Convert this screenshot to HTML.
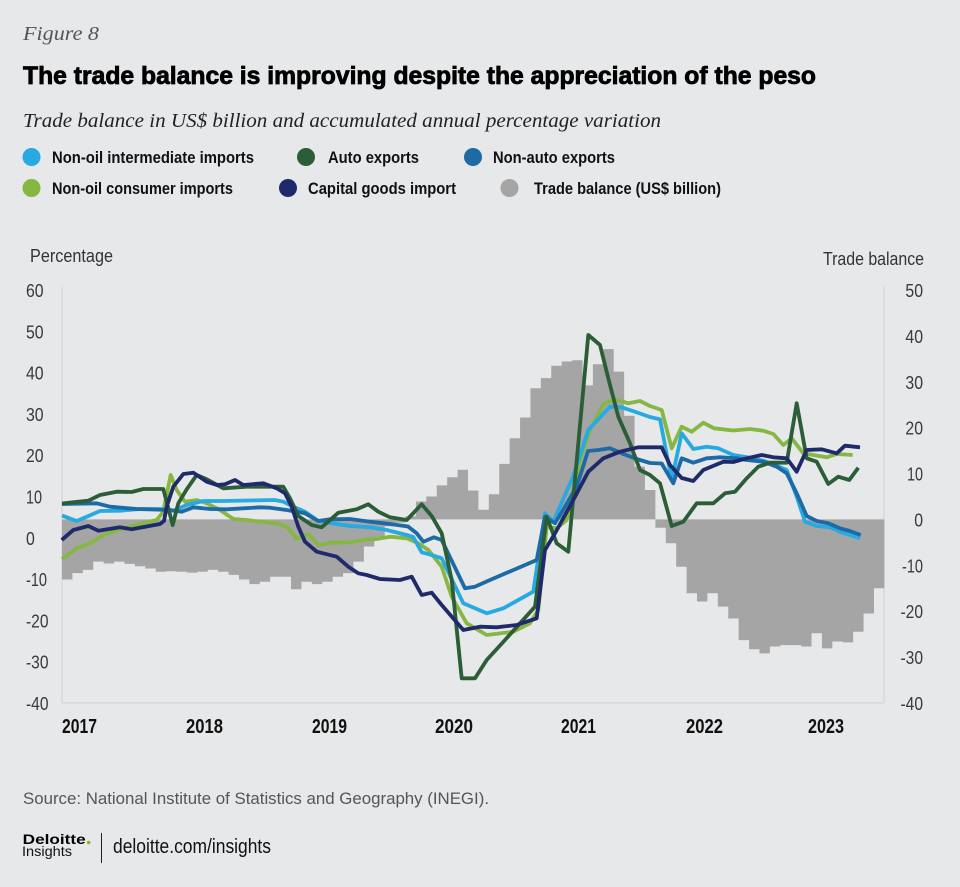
<!DOCTYPE html>
<html>
<head>
<meta charset="utf-8">
<style>
html,body{margin:0;padding:0;background:#e7e8ea;}
svg{display:block;}
</style>
</head>
<body>
<svg width="960" height="887" viewBox="0 0 960 887" xmlns="http://www.w3.org/2000/svg">
<rect x="0" y="0" width="960" height="887" fill="#e7e8ea"/>

<!-- Header -->
<text x="23" y="40" font-family="Liberation Serif, serif" font-style="italic" font-size="20" fill="#555" textLength="76" lengthAdjust="spacingAndGlyphs">Figure 8</text>
<text x="23" y="84" font-family="Liberation Sans, sans-serif" font-weight="bold" font-size="25" fill="#000" stroke="#000" stroke-width="0.8" textLength="793" lengthAdjust="spacingAndGlyphs">The trade balance is improving despite the appreciation of the peso</text>
<text x="23" y="127" font-family="Liberation Serif, serif" font-style="italic" font-size="20.5" fill="#222" textLength="638" lengthAdjust="spacingAndGlyphs">Trade balance in US$ billion and accumulated annual percentage variation</text>

<!-- Legend -->
<g font-family="Liberation Sans, sans-serif" font-weight="bold" font-size="16.5" fill="#111">
<circle cx="31.5" cy="157" r="9" fill="#27a9e1"/>
<text x="52" y="163" textLength="202" lengthAdjust="spacingAndGlyphs">Non-oil intermediate imports</text>
<circle cx="306" cy="157" r="9" fill="#2b5d36"/>
<text x="328" y="163" textLength="91" lengthAdjust="spacingAndGlyphs">Auto exports</text>
<circle cx="473" cy="157" r="9" fill="#1d6aa5"/>
<text x="493" y="163" textLength="122" lengthAdjust="spacingAndGlyphs">Non-auto exports</text>
<circle cx="31.5" cy="188" r="9" fill="#86b742"/>
<text x="52" y="194" textLength="181" lengthAdjust="spacingAndGlyphs">Non-oil consumer imports</text>
<circle cx="288" cy="188" r="9" fill="#1f2a6b"/>
<text x="308" y="194" textLength="148" lengthAdjust="spacingAndGlyphs">Capital goods import</text>
<circle cx="509.5" cy="188" r="9" fill="#a5a5a5"/>
<text x="534" y="194" textLength="187" lengthAdjust="spacingAndGlyphs">Trade balance (US$ billion)</text>
</g>

<!-- Axis titles -->
<text x="30" y="262" font-family="Liberation Sans, sans-serif" font-size="18" fill="#333" textLength="83" lengthAdjust="spacingAndGlyphs">Percentage</text>
<text x="924" y="265" text-anchor="end" font-family="Liberation Sans, sans-serif" font-size="18" fill="#333" textLength="101" lengthAdjust="spacingAndGlyphs">Trade balance</text>

<!-- Axes lines -->
<g stroke="#cfd1d4" stroke-width="1" fill="none">
<line x1="62" y1="287" x2="62" y2="703"/>
<line x1="884" y1="287" x2="884" y2="703"/>
<line x1="62" y1="703" x2="884" y2="703"/>
</g>

<!-- Left ticks -->
<g font-family="Liberation Sans, sans-serif" font-size="18.5" fill="#3a3a3a">
<text x="26" y="297" textLength="17.6" lengthAdjust="spacingAndGlyphs">60</text>
<text x="26" y="338.3" textLength="17.6" lengthAdjust="spacingAndGlyphs">50</text>
<text x="26" y="379.6" textLength="17.6" lengthAdjust="spacingAndGlyphs">40</text>
<text x="26" y="420.9" textLength="17.6" lengthAdjust="spacingAndGlyphs">30</text>
<text x="26" y="462.2" textLength="17.6" lengthAdjust="spacingAndGlyphs">20</text>
<text x="26" y="503.5" textLength="16" lengthAdjust="spacingAndGlyphs">10</text>
<text x="26" y="544.8" textLength="8.8" lengthAdjust="spacingAndGlyphs">0</text>
<text x="26" y="586.1" textLength="21" lengthAdjust="spacingAndGlyphs">-10</text>
<text x="26" y="627.4" textLength="22.5" lengthAdjust="spacingAndGlyphs">-20</text>
<text x="26" y="668.7" textLength="22.5" lengthAdjust="spacingAndGlyphs">-30</text>
<text x="26" y="710" textLength="22.5" lengthAdjust="spacingAndGlyphs">-40</text>
</g>

<!-- Right ticks -->
<g font-family="Liberation Sans, sans-serif" font-size="18.5" fill="#3a3a3a" text-anchor="end">
<text x="923" y="297" textLength="17.6" lengthAdjust="spacingAndGlyphs">50</text>
<text x="923" y="342.9" textLength="17.6" lengthAdjust="spacingAndGlyphs">40</text>
<text x="923" y="388.8" textLength="17.6" lengthAdjust="spacingAndGlyphs">30</text>
<text x="923" y="434.7" textLength="17.6" lengthAdjust="spacingAndGlyphs">20</text>
<text x="923" y="480.5" textLength="16" lengthAdjust="spacingAndGlyphs">10</text>
<text x="923" y="526.4" textLength="8.8" lengthAdjust="spacingAndGlyphs">0</text>
<text x="923" y="572.3" textLength="21" lengthAdjust="spacingAndGlyphs">-10</text>
<text x="923" y="618.2" textLength="22.5" lengthAdjust="spacingAndGlyphs">-20</text>
<text x="923" y="664.1" textLength="22.5" lengthAdjust="spacingAndGlyphs">-30</text>
<text x="923" y="710" textLength="22.5" lengthAdjust="spacingAndGlyphs">-40</text>
</g>

<!-- Year labels -->
<g font-family="Liberation Sans, sans-serif" font-weight="bold" font-size="20" fill="#111">
<text x="62" y="733" textLength="35" lengthAdjust="spacingAndGlyphs">2017</text>
<text x="186" y="733" textLength="37" lengthAdjust="spacingAndGlyphs">2018</text>
<text x="312" y="733" textLength="35" lengthAdjust="spacingAndGlyphs">2019</text>
<text x="435" y="733" textLength="38" lengthAdjust="spacingAndGlyphs">2020</text>
<text x="561" y="733" textLength="35" lengthAdjust="spacingAndGlyphs">2021</text>
<text x="686" y="733" textLength="37" lengthAdjust="spacingAndGlyphs">2022</text>
<text x="808" y="733" textLength="36" lengthAdjust="spacingAndGlyphs">2023</text>
</g>

<!-- Trade balance bars (stepped area) -->
<path fill="#a5a5a5" d="M62,519.4 V579.5 h10.41 V573.1 h10.41 V569.9 h10.41 V561.6 h10.41 V563.5 h10.41 V561.6 h10.41 V563.9 h10.41 V566.2 h10.41 V568.5 h10.41 V571.7 h10.41 V571.3 h10.41 V571.7 h10.41 V572.6 h10.41 V571.7 h10.41 V569.9 h10.41 V571.7 h10.41 V574.9 h10.41 V579.5 h10.41 V584.1 h10.41 V581.8 h10.41 V576.8 h10.41 V576.8 h10.41 V589.2 h10.41 V581.8 h10.41 V584.1 h10.41 V581.8 h10.41 V576.8 h10.41 V573.1 h10.41 V561.6 h10.41 V546.5 h10.41 V538.2 h10.41 V526.3 h10.41 V522.6 h10.41 V516.2 h10.41 V501.5 h10.41 V496.5 h10.41 V485.4 h10.41 V477.2 h10.41 V469.8 h10.41 V490.5 h10.41 V509.8 h10.41 V494.2 h10.41 V463.9 h10.41 V438.2 h10.41 V417.5 h10.41 V388.2 h10.41 V378.1 h10.41 V365.7 h10.41 V361.5 h10.41 V360.2 h10.41 V385.4 h10.41 V364.3 h10.41 V349.1 h10.41 V371.6 h10.41 V415.7 h10.41 V466.6 h10.41 V490.0 h10.41 V527.7 h10.41 V543.3 h10.41 V566.7 h10.41 V593.3 h10.41 V601.5 h10.41 V593.3 h10.41 V606.6 h10.41 V618.5 h10.41 V640.1 h10.41 V649.3 h10.41 V653.4 h10.41 V646.5 h10.41 V645.1 h10.41 V645.1 h10.41 V646.5 h10.41 V633.2 h10.41 V648.4 h10.41 V641.5 h10.41 V642.4 h10.41 V631.8 h10.41 V613.5 h10.41 V588.2 h10.41 V519.4 Z"/>

<!-- Lines -->
<g fill="none" stroke-width="3.8" stroke-linejoin="round" stroke-linecap="butt">
<polyline stroke="#86b742" points="62,559 76.7,548.3 90,543.3 103.3,535 120,529.3 140,524 156.7,520 163.3,511.7 170.7,475 176.7,490 185,501.7 196.7,500 206.7,503.3 220,510 233.3,519 246.7,520 260,521.7 276.7,523.3 286.7,526.7 296.7,539 308.3,534 318.3,545 331.7,542.7 350,542.3 363.3,540 376.7,539 390,536.7 406.7,538.3 418.3,543.3 428.3,550 441.7,566.7 451.7,596.7 466.7,623.3 486.7,635 513.3,631.7 530,623.3 538.3,610 546.7,526.7 556.7,528.3 566.7,520 580,460 590,430 603.3,404 615,399.3 628.3,403.3 640,401 650,406 661.7,410 671.7,448.3 681.7,426.7 691.7,431.7 703.3,422.7 714,428.3 733.3,430.5 750,429 763.3,430.7 773.3,434 783.3,445 791.7,438.3 803.3,453.3 813.3,455 826.7,457.3 836.7,454 852.7,455"/>
<polyline stroke="#27a9e1" points="62,515.5 66.7,517.3 76.7,521 86.7,516.7 100,511 120,510.7 140,509 160,509 173.3,510.7 186.7,505 203.3,501 223.3,501 275,500 283.3,501.7 293.3,506.7 305,511.7 318.3,521 331.7,523.3 350,526 370,527.3 386.7,530 406.7,535 413.3,537 421.7,552.3 431.7,555 441.7,558.3 463.3,603.3 486.7,613.3 503.3,608.3 533.3,591.7 545,513.3 553.3,521.7 573.3,476 588.3,430 610,406.7 621.7,407.3 640,413.5 650,417 660,419.3 671.7,480 681.7,433.3 693.3,449 706.7,446.7 718.3,448.3 733.3,455 753.3,458.3 766.7,461.7 786.7,470 796.7,496.7 805,521.7 816.7,526 830,527.3 840,531.7 860,538.3"/>
<polyline stroke="#1d6aa5" points="62,504 96.7,503.3 110,506.7 136.7,509 170,510 181.7,511.7 193.3,507.3 210,509 226.7,509.3 260,507.3 270,507.7 286.7,510 305,513.3 318.3,521 330,519.3 350,519 370,521.7 390,524 408,526.5 416.7,533.3 423.3,541.7 434,537.3 441.7,540 465,588.3 475,586.7 490,580 536.7,560 545,516.7 555,523.3 565,506.7 576.7,486.7 588,451 598.3,450 610,448.3 621.7,453.3 636.7,459 650,463 661.7,463.5 673.3,483.3 681.7,458.3 693.3,462.7 706.7,458.3 720,457.3 736.7,458.3 746.7,460 763.3,461.7 776.7,466.7 786.7,473.3 796.7,493.3 806.7,516 816.7,521 828.3,523.3 840,528.3 850,531 860.7,535"/>
<polyline stroke="#2b5d36" points="62,503.5 88.3,500.7 100,495 116.7,491.7 131.7,492 143.3,489 163.3,489 172.7,525 178.3,503.3 186.7,489.3 196.7,475 206.7,479.3 223.3,488.3 246.7,486.7 283.3,486.7 290,498.3 298.3,516 311.7,525 321.7,527.3 338.3,512.7 356.7,509.3 368.3,504.3 378.3,511.7 390,517.3 406.7,520 421.7,504.3 431.7,516 441.7,533.3 451.7,580 461.7,678.3 475,678.3 486.7,660 505,640 520,623.3 535,606.7 546.7,516.7 556.7,543.3 568.3,551.7 588.3,335 600,345 608.3,378.3 618.3,416.7 630,443.3 640,470 650,475 660,483.3 671.7,526 683.3,521.7 696.7,503.3 713.3,503.3 725,493.3 735,491.7 746.7,478.3 758.3,466.7 770,462.7 786.7,462.7 796.7,403.3 806.7,458.3 816.7,461.7 828.3,484 838.3,476.7 849.3,480 858.3,467.7"/>
<polyline stroke="#1f2a6b" points="61.7,540 73.3,530 88.3,526 98.3,530.7 120,527.3 131.7,529.3 160,524 164,521 166.7,506.7 173.3,486.7 183.3,474 193.3,472.7 206.7,481.7 216.7,485 225,484.3 235,480 243.3,485 263.3,483.3 276.7,488.3 285,493.3 291.7,506.7 298.3,526.7 305,541.7 316.7,551.7 336.7,556.7 348.3,566.7 358.3,573.3 366.7,575 380,579 400,580 411.7,576.7 421.7,595 431.7,592.7 441.7,605 463.3,630 480,626.7 496.7,627.3 516.7,625 536.7,618.3 545,550 555,533.3 573.3,500 588.3,471.7 603.3,458.3 620,451.7 638.3,447.3 661.7,447.3 670,465 681.7,478 693.3,481 703.3,470 723.3,461.7 733.3,462 746.7,458.3 761.7,455 773.3,457.3 786.7,458.3 796.7,471.7 806.7,450 821.7,449.3 836.7,453.3 845,445.7 860,447.3"/>
</g>

<!-- Footer -->
<text x="23" y="804" font-family="Liberation Sans, sans-serif" font-size="17" fill="#555" textLength="466" lengthAdjust="spacingAndGlyphs">Source: National Institute of Statistics and Geography (INEGI).</text>
<text x="22.7" y="844" font-family="Liberation Sans, sans-serif" font-weight="bold" font-size="14" fill="#000" textLength="63" lengthAdjust="spacingAndGlyphs">Deloitte</text>
<circle cx="88.7" cy="842.5" r="1.8" fill="#86bc25"/>
<text x="22" y="856" font-family="Liberation Sans, sans-serif" font-size="14" fill="#111" textLength="50" lengthAdjust="spacingAndGlyphs">Insights</text>
<line x1="101.5" y1="833" x2="101.5" y2="863" stroke="#222" stroke-width="1"/>
<text x="113" y="853" font-family="Liberation Sans, sans-serif" font-size="20" fill="#111" textLength="158" lengthAdjust="spacingAndGlyphs">deloitte.com/insights</text>
</svg>
</body>
</html>
